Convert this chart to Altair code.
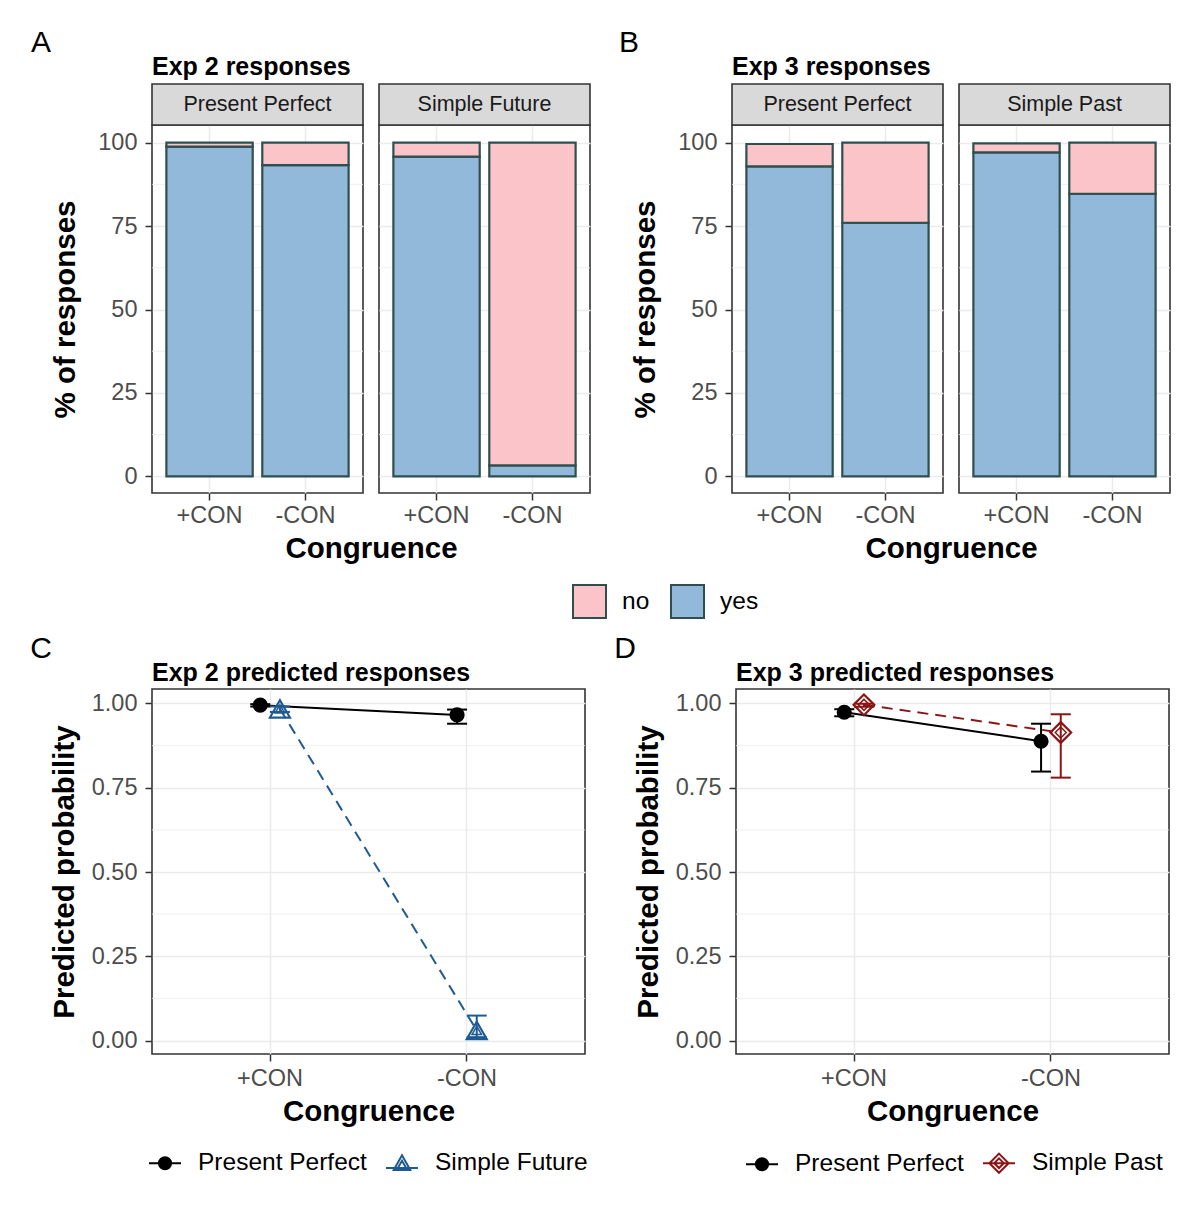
import altair as alt
import pandas as pd

FONT = "Liberation Sans"

# ---------------- data ----------------
CONG = ["+CON", "-CON"]
RESP = ["no", "yes"]

E2_TENSES = ["Present Perfect", "Simple Future"]
E2_YES = [[98.8, 93.3], [95.8, 3.3]]
E2_NO = [[1.2, 6.7], [4.2, 96.7]]

E3_TENSES = ["Present Perfect", "Simple Past"]
E3_YES = [[92.9, 76.0], [97.1, 84.7]]
E3_NO = [[6.7, 24.0], [2.7, 15.3]]

E2_PP_FIT = [0.995, 0.966]
E2_PP_LO = [0.991, 0.940]
E2_PP_HI = [0.998, 0.982]
E2_SF_FIT = [0.984, 0.030]
E2_SF_LO = [0.975, 0.010]
E2_SF_HI = [0.991, 0.074]

E3_PP_FIT = [0.974, 0.888]
E3_PP_LO = [0.962, 0.798]
E3_PP_HI = [0.983, 0.940]
E3_SP_FIT = [0.996, 0.914]
E3_SP_LO = [0.990, 0.780]
E3_SP_HI = [0.999, 0.968]

PCT_TICKS = [0, 25, 50, 75, 100]
PCT_MINOR = [12.5, 37.5, 62.5, 87.5]
P_TICKS = [0, 0.25, 0.5, 0.75, 1.0]
P_MINOR = [0.125, 0.375, 0.625, 0.875]

# ---------------- styles ----------------
PINK = "#FBC4C8"
BLUE_BAR = "#92B8DA"
BAR_EDGE = "#2F4F4F"
STRIP = "#D9D9D9"
BORDER = "#333333"
GRID = "#EBEBEB"
PP_COL = "#000000"
SF_COL = "#1F5A93"
SP_COL = "#8B1515"

FW, FH = 211, 368
PW, PH = 433, 365


def rings(rs):
    return "".join(f"M{r},0A{r},{r},0,1,1,{-r},0A{r},{r},0,1,1,{r},0" for r in rs)


PATH_PP = "M-1,0H1" + rings([0.38, 0.31, 0.24, 0.17, 0.10, 0.04])
PATH_SF = "M-1,0.3H1M0,-0.5L0.52,0.42L-0.52,0.42ZM0,-0.16L0.26,0.3L-0.26,0.3Z"
PATH_SP = "M-1,0H1M0,-0.6L0.6,0L0,0.6L-0.6,0ZM0,-0.3L0.3,0L0,0.3L-0.3,0Z"


def txt(label, x, y, size, weight="normal", align="center", baseline="middle", color="black"):
    return alt.Chart(pd.DataFrame({"t": [label]})).mark_text(
        font=FONT, fontSize=size, fontWeight=weight, align=align, baseline=baseline, color=color
    ).encode(text="t:N", x=alt.value(x), y=alt.value(y))


FILL_LEGEND = alt.Legend(
    title=None, orient="none", legendX=420, legendY=459, direction="horizontal",
    symbolType="square", symbolSize=1089, symbolStrokeColor=BAR_EDGE, symbolStrokeWidth=2,
    labelFont=FONT, labelFontSize=24.5, labelColor="black", labelOffset=15, columnPadding=17,
    labelLimit=400,
)


def facet_panel(tense, yes, no, first, letter=None, title=None):
    df = pd.DataFrame({
        "cong": CONG + CONG,
        "resp": ["yes", "yes", "no", "no"],
        "pct": yes + no,
        "ord": [0, 0, 1, 1],
    })
    xs = alt.Scale(domain=CONG, paddingInner=0.1, paddingOuter=0.15)
    ys = alt.Scale(domain=[-5, 105.3], nice=False, zero=False)
    if first:
        yax = alt.Axis(values=PCT_TICKS, grid=True, titlePadding=17, labelPadding=8)
        ytitle = "% of responses"
        xax = alt.Axis(labelAngle=0, grid=True, bandPosition=0.5, titleX=FW + 8,
                       titleAlign="center", titlePadding=8, labelPadding=3)
        xtitle = "Congruence"
    else:
        yax = alt.Axis(values=PCT_TICKS, grid=True, labels=False, ticks=False)
        ytitle = None
        xax = alt.Axis(labelAngle=0, grid=True, bandPosition=0.5, labelPadding=3)
        xtitle = None
    Y = alt.Y("pct:Q", scale=ys, axis=yax, title=ytitle)
    minor = alt.Chart(pd.DataFrame({"pct": PCT_MINOR})).mark_rule(
        color=GRID, strokeWidth=0.8).encode(y=Y)
    bars = alt.Chart(df).mark_bar(stroke=BAR_EDGE, strokeWidth=2.2).encode(
        x=alt.X("cong:N", scale=xs, axis=xax, title=xtitle),
        y=alt.Y("pct:Q", scale=ys, axis=yax, title=ytitle, stack="zero"),
        fill=alt.Fill("resp:N", scale=alt.Scale(domain=RESP, range=[PINK, BLUE_BAR]),
                      legend=FILL_LEGEND),
        order=alt.Order("ord:Q"),
    )
    strip = alt.Chart(pd.DataFrame({"s": [tense]})).mark_rect(
        fill=STRIP, stroke=BORDER, strokeWidth=1.6).encode(
        x=alt.value(0), x2=alt.value(FW), y=alt.value(-41), y2=alt.value(0))
    strip_t = txt(tense, FW / 2, -20.5, 21.5, color="#1A1A1A")
    layers = [minor, bars, strip, strip_t]
    if letter:
        layers.append(txt(letter[0], letter[1], -82, 30))
    if title:
        layers.append(txt(title, 0, -50, 25, weight="bold", align="left", baseline="alphabetic"))
    return alt.layer(*layers).properties(width=FW, height=FH)


def pred_panel(series, letter, legend_x, title):
    rows = []
    for name, fit, lo, hi, *_ in series:
        for i, c in enumerate(CONG):
            rows.append({"tense": name, "cong": c, "fit": fit[i], "lo": lo[i], "hi": hi[i]})
    df = pd.DataFrame(rows)
    names = [s[0] for s in series]
    xs = alt.Scale(domain=CONG, paddingInner=0.8, paddingOuter=0.5)
    xo = alt.Scale(domain=names, paddingInner=0, paddingOuter=0)
    ys = alt.Scale(domain=[-0.04, 1.043], nice=False, zero=False)
    yax = alt.Axis(values=P_TICKS, format=".2f", grid=True, titlePadding=12, labelPadding=8)
    xax = alt.Axis(labelAngle=0, grid=True, bandPosition=0.5, titlePadding=8, labelPadding=5)
    YT = "Predicted probability"
    X = alt.X("cong:N", scale=xs, axis=xax, title="Congruence")
    XO = alt.XOffset("tense:N", scale=xo)

    def Yf(f):
        return alt.Y(f"{f}:Q", scale=ys, axis=yax, title=YT)

    layers = [alt.Chart(pd.DataFrame({"fit": P_MINOR})).mark_rule(
        color=GRID, strokeWidth=0.8).encode(y=Yf("fit"))]
    base = alt.Chart(df)
    for name, fit, lo, hi, col, dash, shape, outer, inner, filled in series:
        b = base.transform_filter(alt.datum.tense == name)
        lk = dict(color=col, strokeWidth=2)
        if dash:
            lk["strokeDash"] = dash
        layers.append(b.mark_line(**lk).encode(x=X, xOffset=XO, y=Yf("fit")))
    for name, fit, lo, hi, col, dash, shape, outer, inner, filled in series:
        b = base.transform_filter(alt.datum.tense == name)
        layers.append(b.mark_rule(color=col, strokeWidth=2).encode(
            x=X, xOffset=XO, y=Yf("lo"), y2="hi:Q"))
        for f in ("lo", "hi"):
            layers.append(b.mark_tick(color=col, size=20, thickness=2, opacity=1).encode(
                x=X, xOffset=XO, y=Yf(f)))
    for name, fit, lo, hi, col, dash, shape, outer, inner, filled in series:
        b = base.transform_filter(alt.datum.tense == name)
        if filled:
            layers.append(b.mark_point(shape=shape, filled=True, size=outer, color=col,
                                       opacity=1).encode(x=X, xOffset=XO, y=Yf("fit")))
        else:
            layers.append(b.mark_point(shape=shape, filled=False, size=outer, color=col,
                                       strokeWidth=2.2, opacity=1).encode(x=X, xOffset=XO, y=Yf("fit")))
            layers.append(b.mark_point(shape=shape, filled=False, size=inner, color=col,
                                       strokeWidth=1.5, opacity=1).encode(x=X, xOffset=XO, y=Yf("fit")))
    paths = [PATH_PP, PATH_SF if series[1][6] == "triangle-up" else PATH_SP]
    leg = alt.Legend(
        title=None, orient="none", legendX=legend_x, legendY=457, direction="horizontal",
        symbolSize=1024, symbolStrokeWidth=2, symbolOpacity=1, symbolFillColor="transparent",
        labelFont=FONT, labelFontSize=24.5, labelColor="black", labelOffset=16, columnPadding=15,
        labelLimit=400,
    )
    layers.append(base.mark_point(opacity=0, filled=False).encode(
        x=X, xOffset=XO, y=Yf("fit"),
        stroke=alt.Stroke("tense:N", scale=alt.Scale(domain=names, range=[s[4] for s in series]),
                          legend=leg),
        shape=alt.Shape("tense:N", scale=alt.Scale(domain=names, range=paths), legend=leg),
    ))
    layers.append(txt(letter, -111, -40, 30))
    layers.append(txt(title, 0, -8, 25, weight="bold", align="left", baseline="alphabetic"))
    return alt.layer(*layers).properties(width=PW, height=PH)


def spacer(w, h):
    return alt.Chart(pd.DataFrame({"v": [0]})).mark_point(opacity=0).encode(
        x=alt.value(0), y=alt.value(0)).properties(
        width=w, height=h, view=alt.ViewBackground(stroke="transparent"))


f1 = facet_panel(E2_TENSES[0], E2_YES[0], E2_NO[0], True, ("A", -111), "Exp 2 responses")
f2 = facet_panel(E2_TENSES[1], E2_YES[1], E2_NO[1], False)
f3 = facet_panel(E3_TENSES[0], E3_YES[0], E3_NO[0], True, ("B", -103), "Exp 3 responses")
f4 = facet_panel(E3_TENSES[1], E3_YES[1], E3_NO[1], False)

pc = pred_panel([
    ("Present Perfect", E2_PP_FIT, E2_PP_LO, E2_PP_HI, PP_COL, None, "circle", 230, 0, True),
    ("Simple Future", E2_SF_FIT, E2_SF_LO, E2_SF_HI, SF_COL, [11, 7], "triangle-up", 400, 90, False),
], "C", -4, "Exp 2 predicted responses")
pdd = pred_panel([
    ("Present Perfect", E3_PP_FIT, E3_PP_LO, E3_PP_HI, PP_COL, None, "circle", 230, 0, True),
    ("Simple Past", E3_SP_FIT, E3_SP_LO, E3_SP_HI, SP_COL, [11, 7], "diamond", 430, 120, False),
], "D", 9, "Exp 3 predicted responses")

row1 = alt.hconcat(f1, f2, spacer(110, FH), f3, f4, spacing=16, bounds="flush").resolve_scale(
    fill="shared")
row2 = alt.hconcat(pc, spacer(119, PH), pdd, spacing=16, bounds="flush").resolve_scale(
    stroke="independent", shape="independent", xOffset="independent"
).resolve_legend(stroke="independent", shape="independent")

chart = alt.vconcat(row1, row2, spacing=69).resolve_scale(
    fill="shared", stroke="independent", shape="independent",
).resolve_legend(
    fill="shared", stroke="independent", shape="independent",
).properties(
    padding={"left": 21, "top": 19, "right": 8, "bottom": 8}, background="white",
).configure(font=FONT).configure_view(
    stroke=BORDER, strokeWidth=1.6,
).configure_axis(
    labelFont=FONT, titleFont=FONT, labelFontSize=23.5, labelColor="#4D4D4D",
    tickColor=BORDER, tickSize=7, tickWidth=1.5, gridColor=GRID, gridWidth=1.5,
    domain=False, titleFontSize=29.5, titleFontWeight="bold", titleColor="black",
)

chart.save("out.html", embed_options={"renderer": "svg", "actions": False})
